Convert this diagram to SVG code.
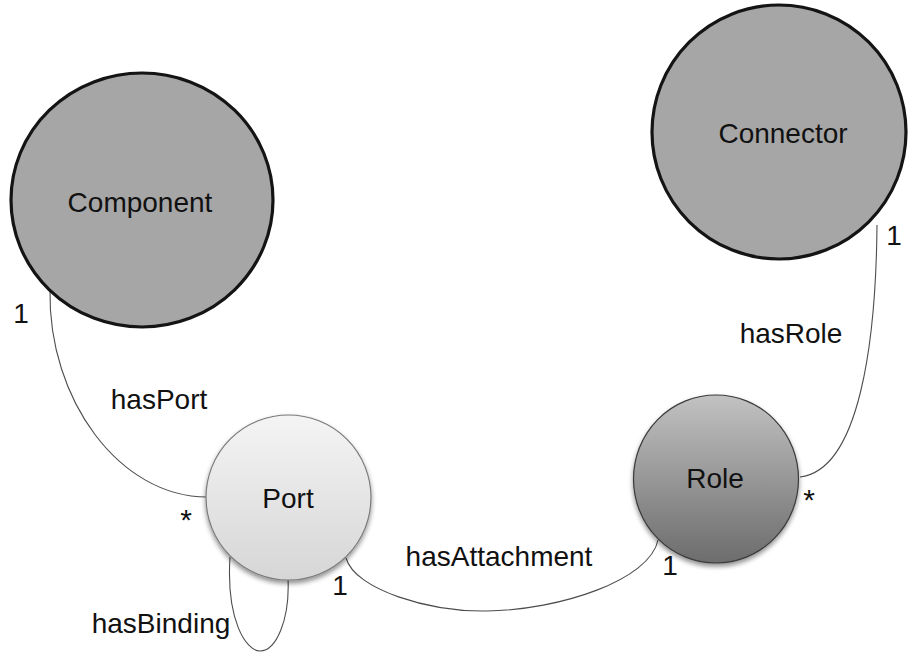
<svg xmlns="http://www.w3.org/2000/svg" width="909" height="655" viewBox="0 0 909 655">
  <style>
    text { font-family: "Liberation Sans", Arial, sans-serif; font-size: 28px; fill: #111; }
    .mid { text-anchor: middle; }
    .edge { fill: none; stroke: #4d4d4d; stroke-width: 1.1; }
    .big { fill: #a6a6a6; stroke: #141414; stroke-width: 3.2; }
    .port { fill: url(#portFill); stroke: #7a7a7a; stroke-width: 1.2; }
    .role { fill: url(#roleFill); stroke: #3a3a3a; stroke-width: 1.2; }
    .mult { font-size: 30px; }
  </style>
  <defs>
    <linearGradient id="portFill" x1="0" y1="0" x2="0" y2="1">
      <stop offset="0" stop-color="#f4f4f4"/>
      <stop offset="1" stop-color="#d6d6d6"/>
    </linearGradient>
    <linearGradient id="roleFill" x1="0" y1="0" x2="0" y2="1">
      <stop offset="0" stop-color="#c2c2c2"/>
      <stop offset="1" stop-color="#6c6c6c"/>
    </linearGradient>
    <filter id="shadow" x="-20%" y="-20%" width="140%" height="150%">
      <feGaussianBlur in="SourceAlpha" stdDeviation="2.5"/>
      <feOffset dx="0" dy="3" result="blur"/>
      <feComponentTransfer><feFuncA type="linear" slope="0.45"/></feComponentTransfer>
      <feMerge><feMergeNode/><feMergeNode in="SourceGraphic"/></feMerge>
    </filter>
  </defs>

  <!-- relations -->
  <g id="connectors">
    <path id="hasPort" class="edge" d="M50,290 C48,400 120,497 207,497"/>
    <path id="hasBinding" class="edge" d="M230,557 C226,620 246,651 260,651 C276,651 290,620 288,578"/>
    <path id="hasAttachment" class="edge" d="M346,558 C355,590 430,612 487,611 C560,610 650,580 658,540"/>
    <path id="hasRole" class="edge" d="M877,225 C876,340 860,470 800,477"/>

    <text x="159" y="409" class="mid">hasPort</text>
    <text x="161" y="633" class="mid">hasBinding</text>
    <text x="499" y="566" class="mid">hasAttachment</text>
    <text x="791" y="343" class="mid">hasRole</text>

    <text x="21" y="323" class="mid">1</text>
    <text x="186" y="530" class="mid mult">*</text>
    <text x="340" y="595" class="mid">1</text>
    <text x="670" y="575" class="mid">1</text>
    <text x="809" y="510" class="mid mult">*</text>
    <text x="894" y="245" class="mid">1</text>
  </g>

  <g id="component">
    <ellipse class="big" cx="142" cy="200" rx="131" ry="127"/>
    <text x="140" y="212" class="mid">Component</text>
  </g>

  <g id="connector">
    <ellipse class="big" cx="779" cy="132" rx="127" ry="127"/>
    <text x="783" y="143" class="mid">Connector</text>
  </g>

  <g id="port">
    <circle class="port" cx="288.5" cy="497.5" r="82.5" filter="url(#shadow)"/>
    <text x="288" y="508" class="mid">Port</text>
  </g>

  <g id="role">
    <ellipse class="role" cx="716" cy="479" rx="82.5" ry="84" filter="url(#shadow)"/>
    <text x="715" y="488" class="mid">Role</text>
  </g>
</svg>
